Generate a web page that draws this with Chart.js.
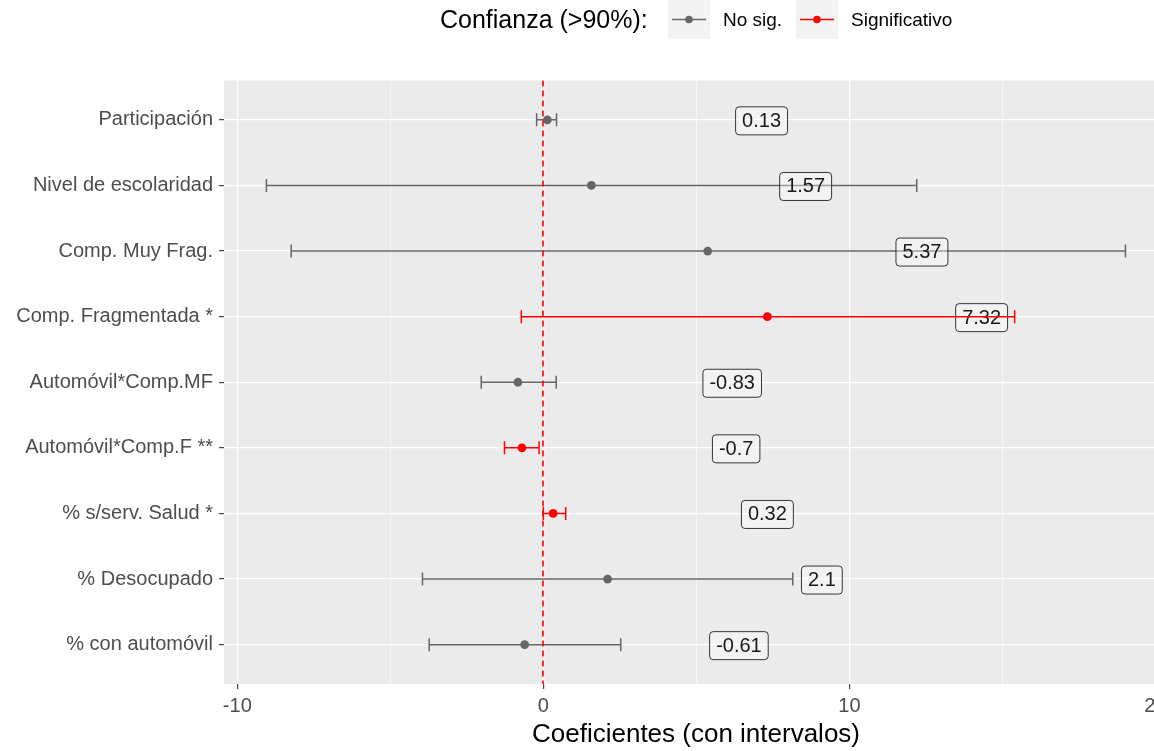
<!DOCTYPE html>
<html>
<head>
<meta charset="utf-8">
<script src="https://cdn.jsdelivr.net/npm/chart.js@4.4.1/dist/chart.umd.min.js"></script>
<style>
  html, body { margin: 0; padding: 0; background: #ffffff; overflow: hidden; }
  #wrap { position: absolute; left: 0; top: 0; width: 1190px; height: 751px; }
</style>
</head>
<body>
<div id="wrap"><canvas id="c"></canvas></div>
<script>
// ---- data ----
const categories = [
  "Participación",
  "Nivel de escolaridad",
  "Comp. Muy Frag.",
  "Comp. Fragmentada *",
  "Automóvil*Comp.MF",
  "Automóvil*Comp.F **",
  "% s/serv. Salud *",
  "% Desocupado",
  "% con automóvil"
];
const estimates   = [0.13, 1.57, 5.37, 7.32, -0.83, -0.70, 0.32, 2.10, -0.61];
const lowerBounds = [-0.22, -9.05, -8.24, -0.72, -2.03, -1.27, 0.00, -3.95, -3.73];
const upperBounds = [0.43, 12.20, 19.02, 15.40, 0.42, -0.14, 0.73, 8.15, 2.53];
const significant = [false, false, false, true, false, true, true, false, false];
const labelTexts  = ["0.13", "1.57", "5.37", "7.32", "-0.83", "-0.7", "0.32", "2.1", "-0.61"];
const xTickValues = [-10, -5, 0, 5, 10, 15, 20];
const xTickLabels = ["-10", "", "0", "", "10", "", "20"];
const legendTitle = "Confianza (>90%):";
const legendLabels = ["No sig.", "Significativo"];

// ---- styles ----
const GREY = "#666666";
const RED = "#FF0000";
const FONT = "'Liberation Sans', Arial, sans-serif";
const LABEL_OFFSET = 7; // labels placed to the right of the estimate (data units)

function buildPoints(flag) {
  const pts = [];
  estimates.forEach((v, i) => { if (significant[i] === flag) pts.push({x: v, y: i, idx: i}); });
  return pts;
}

const groupColors = [GREY, RED];

const panelBg = {
  id: 'panelBg',
  beforeDraw(chart) {
    const {ctx, chartArea: a} = chart;
    ctx.save();
    ctx.fillStyle = '#EBEBEB';
    ctx.fillRect(a.left, a.top, a.right - a.left, a.bottom - a.top);
    ctx.restore();
  }
};

function drawErrorBars(chart, flag, color) {
  const {ctx} = chart;
  const xs = chart.scales.x, ys = chart.scales.y;
  ctx.save();
  ctx.strokeStyle = color;
  ctx.lineWidth = 1.5;
  estimates.forEach((v, i) => {
    if (significant[i] !== flag) return;
    const y = ys.getPixelForValue(i);
    const x1 = xs.getPixelForValue(lowerBounds[i]);
    const x2 = xs.getPixelForValue(upperBounds[i]);
    ctx.beginPath();
    ctx.moveTo(x1, y); ctx.lineTo(x2, y);
    ctx.moveTo(x1, y - 6.5); ctx.lineTo(x1, y + 6.5);
    ctx.moveTo(x2, y - 6.5); ctx.lineTo(x2, y + 6.5);
    ctx.stroke();
  });
  ctx.restore();
}

function roundRect(ctx, x, y, w, h, r) {
  ctx.beginPath();
  ctx.moveTo(x + r, y);
  ctx.lineTo(x + w - r, y);
  ctx.quadraticCurveTo(x + w, y, x + w, y + r);
  ctx.lineTo(x + w, y + h - r);
  ctx.quadraticCurveTo(x + w, y + h, x + w - r, y + h);
  ctx.lineTo(x + r, y + h);
  ctx.quadraticCurveTo(x, y + h, x, y + h - r);
  ctx.lineTo(x, y + r);
  ctx.quadraticCurveTo(x, y, x + r, y);
  ctx.closePath();
}

function drawZeroLineAndLabels(chart) {
  const {ctx, chartArea: a} = chart;
  const xs = chart.scales.x, ys = chart.scales.y;
  // zero reference line
  ctx.save();
  ctx.strokeStyle = RED;
  ctx.lineWidth = 1.6;
  ctx.setLineDash([6, 4]);
  const x0 = Math.round(xs.getPixelForValue(0));
  ctx.beginPath();
  ctx.moveTo(x0, a.top); ctx.lineTo(x0, a.bottom);
  ctx.stroke();
  ctx.restore();
  // value labels
  ctx.save();
  ctx.font = "20px " + FONT;
  ctx.textAlign = 'center';
  ctx.textBaseline = 'middle';
  labelTexts.forEach((t, i) => {
    const cx = xs.getPixelForValue(estimates[i] + LABEL_OFFSET);
    const cy = ys.getPixelForValue(i);
    const w = ctx.measureText(t).width + 13;
    const h = 28;
    roundRect(ctx, cx - w / 2, cy - h / 2 + 1, w, h, 3.5);
    ctx.fillStyle = 'rgba(255,255,255,0.35)';
    ctx.fill();
    ctx.strokeStyle = '#333333';
    ctx.lineWidth = 1;
    ctx.stroke();
    ctx.fillStyle = '#1A1A1A';
    ctx.fillText(t, cx, cy + 1.5);
  });
  ctx.restore();
}

const layers = {
  id: 'layers',
  beforeDatasetDraw(chart, args) {
    const flag = args.index === 1;
    drawErrorBars(chart, flag, groupColors[args.index]);
  },
  afterDatasetDraw(chart, args) {
    if (args.index === 0) drawZeroLineAndLabels(chart);
  }
};

const legendPlugin = {
  id: 'customLegend',
  afterDraw(chart) {
    const {ctx} = chart;
    ctx.save();
    ctx.textBaseline = 'middle';
    ctx.textAlign = 'left';
    ctx.fillStyle = '#000000';
    ctx.font = "25px " + FONT;
    ctx.fillText(legendTitle, 440, 21);
    const keyX = [668, 796];
    const textX = [723, 851];
    ctx.font = "19px " + FONT;
    legendLabels.forEach((t, i) => {
      ctx.fillStyle = '#F2F2F2';
      ctx.fillRect(keyX[i], 0, 42, 39);
      ctx.strokeStyle = groupColors[i];
      ctx.lineWidth = 1.6;
      ctx.beginPath();
      ctx.moveTo(keyX[i] + 4, 19.5); ctx.lineTo(keyX[i] + 38, 19.5);
      ctx.stroke();
      ctx.fillStyle = groupColors[i];
      ctx.beginPath();
      ctx.arc(keyX[i] + 21, 19.5, 3.8, 0, Math.PI * 2);
      ctx.fill();
      ctx.fillStyle = '#000000';
      ctx.fillText(t, textX[i], 21);
    });
    ctx.restore();
  }
};

const chart = new Chart(document.getElementById('c'), {
  type: 'scatter',
  data: {
    datasets: [
      {
        label: legendLabels[0],
        data: buildPoints(false),
        pointRadius: 4.4,
        pointHoverRadius: 4.4,
        pointBackgroundColor: GREY,
        pointBorderColor: GREY,
        pointBorderWidth: 0,
        order: 2
      },
      {
        label: legendLabels[1],
        data: buildPoints(true),
        pointRadius: 4.4,
        pointHoverRadius: 4.4,
        pointBackgroundColor: RED,
        pointBorderColor: RED,
        pointBorderWidth: 0,
        order: 1
      }
    ]
  },
  options: {
    responsive: true,
    maintainAspectRatio: false,
    animation: false,
    events: [],
    layout: { padding: { top: 80.5, right: 22, left: 0, bottom: 0 } },
    plugins: {
      legend: { display: false },
      tooltip: { enabled: false }
    },
    scales: {
      x: {
        type: 'linear',
        min: -10.435,
        max: 20.41,
        afterBuildTicks(scale) { scale.ticks = xTickValues.map(v => ({value: v})); },
        afterFit(scale) { scale.height = 67; },
        border: { display: false },
        grid: {
          color: '#FFFFFF',
          lineWidth: ctx => (ctx.tick && ctx.tick.value % 10 === 0) ? 1.3 : 0.6,
          drawTicks: true,
          tickLength: 5,
          tickColor: ctx => (ctx.tick && ctx.tick.value % 10 === 0) ? '#333333' : 'rgba(0,0,0,0)',
          tickWidth: 1.1
        },
        ticks: {
          autoSkip: false,
          maxRotation: 0,
          padding: 5,
          color: '#4D4D4D',
          font: { family: FONT, size: 20 },
          callback: (v) => { const k = xTickValues.indexOf(v); return k >= 0 ? xTickLabels[k] : ''; }
        },
        title: {
          display: true,
          text: 'Coeficientes (con intervalos)',
          color: '#000000',
          font: { family: FONT, size: 26, lineHeight: 1.2 },
          padding: { top: 0, bottom: 0.4 }
        }
      },
      y: {
        type: 'linear',
        reverse: true,
        min: -0.6,
        max: categories.length - 1 + 0.6,
        afterBuildTicks(scale) { scale.ticks = categories.map((c, i) => ({value: i})); },
        afterFit(scale) { scale.width = 224; },
        border: { display: false },
        grid: {
          color: '#FFFFFF',
          lineWidth: 1.3,
          drawTicks: true,
          tickLength: 5,
          tickColor: '#333333',
          tickWidth: 1.1
        },
        ticks: {
          autoSkip: false,
          padding: 6,
          color: '#4D4D4D',
          font: { family: FONT, size: 20 },
          callback: (v) => categories[v] !== undefined ? categories[v] : ''
        }
      }
    }
  },
  plugins: [panelBg, layers, legendPlugin]
});
</script>
</body>
</html>
